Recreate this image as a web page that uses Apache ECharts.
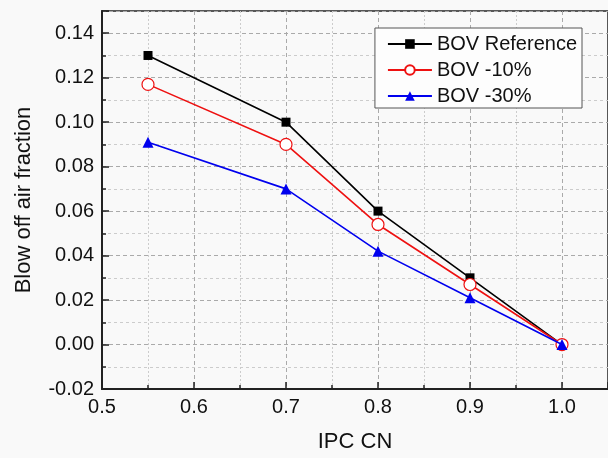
<!DOCTYPE html>
<html><head><meta charset="utf-8">
<script src="https://cdn.jsdelivr.net/npm/echarts@6/dist/echarts.min.js"></script>
<style>html,body{margin:0;padding:0;background:#f9f9f9;}#c{width:608px;height:458px;}</style>
</head><body><div id="c"></div>
<script>
const xValues = [0.55, 0.7, 0.8, 0.9, 1.0];
const bovReference = [0.13, 0.10, 0.06, 0.03, 0.0];
const bovMinus10 = [0.117, 0.09, 0.054, 0.027, 0.0];
const bovMinus30 = [0.091, 0.07, 0.042, 0.021, 0.0];
const seriesNames = ['BOV Reference', 'BOV -10%', 'BOV -30%'];

const pair = (ys) => xValues.map((x, i) => [x, ys[i]]);
const font = 'Liberation Sans, Arial, sans-serif';
const chart = echarts.init(document.getElementById('c'));
chart.setOption({
  backgroundColor: '#f9f9f9',
  animation: false,
  grid: { left: 102, right: -1, top: 11, bottom: 68, show: true, borderColor: '#222', borderWidth: 1.5, backgroundColor: 'transparent' },
  legend: {
    right: 26, top: 28, orient: 'vertical',
    backgroundColor: '#fdfdfd', borderColor: '#555', borderWidth: 1,
    padding: [6, 5, 2, 12], itemGap: 6, itemWidth: 44, itemHeight: 12,
    textStyle: { fontFamily: font, fontSize: 20, color: '#111' },
    data: seriesNames
  },
  xAxis: {
    type: 'value', min: 0.5, max: 1.05, interval: 0.1,
    name: 'IPC CN', nameLocation: 'middle', nameGap: 42,
    nameTextStyle: { fontFamily: font, fontSize: 22, color: '#111' },
    axisLine: { show: true, onZero: false, lineStyle: { color: '#222', width: 2 } },
    axisTick: { show: true, inside: true, length: 7, lineStyle: { color: '#222', width: 1.5 } },
    minorTick: { show: true, splitNumber: 2, length: 4, lineStyle: { color: '#222', width: 1.5 } },
    axisLabel: { fontFamily: font, fontSize: 20, color: '#111', margin: 8, formatter: v => v.toFixed(1), showMaxLabel: false },
    splitLine: { show: true, lineStyle: { color: '#aaa', type: [4, 3], width: 1 } },
    minorSplitLine: { show: true, lineStyle: { color: '#ccc', type: [2, 2], width: 1 } }
  },
  yAxis: {
    type: 'value', min: -0.02, max: 0.15, interval: 0.02,
    name: 'Blow off air fraction', nameLocation: 'middle', nameGap: 67,
    nameTextStyle: { fontFamily: font, fontSize: 22, color: '#111' },
    axisLine: { show: true, onZero: false, lineStyle: { color: '#222', width: 2 } },
    axisTick: { show: true, inside: true, length: 7, lineStyle: { color: '#222', width: 1.5 } },
    minorTick: { show: true, splitNumber: 2, length: 4, lineStyle: { color: '#222', width: 1.5 } },
    axisLabel: { fontFamily: font, fontSize: 20, color: '#111', margin: 8, formatter: v => v.toFixed(2), showMaxLabel: false },
    splitLine: { show: true, lineStyle: { color: '#aaa', type: [4, 3], width: 1 } },
    minorSplitLine: { show: true, lineStyle: { color: '#ccc', type: [3, 3], width: 1 } }
  },
  series: [
    { name: seriesNames[0], type: 'line', data: pair(bovReference), symbol: 'rect', symbolSize: 9,
      lineStyle: { color: '#000', width: 1.6 }, itemStyle: { color: '#000' }, z: 3 },
    { name: seriesNames[1], type: 'line', data: pair(bovMinus10), symbol: 'circle', symbolSize: 12,
      lineStyle: { color: '#ee1111', width: 1.6 }, itemStyle: { color: '#fff', borderColor: '#ee1111', borderWidth: 1.2 }, z: 4 },
    { name: seriesNames[2], type: 'line', data: pair(bovMinus30), symbol: 'triangle', symbolSize: 11,
      lineStyle: { color: '#0000ee', width: 1.6 }, itemStyle: { color: '#0000ee' }, z: 5 }
  ]
});
</script></body></html>
